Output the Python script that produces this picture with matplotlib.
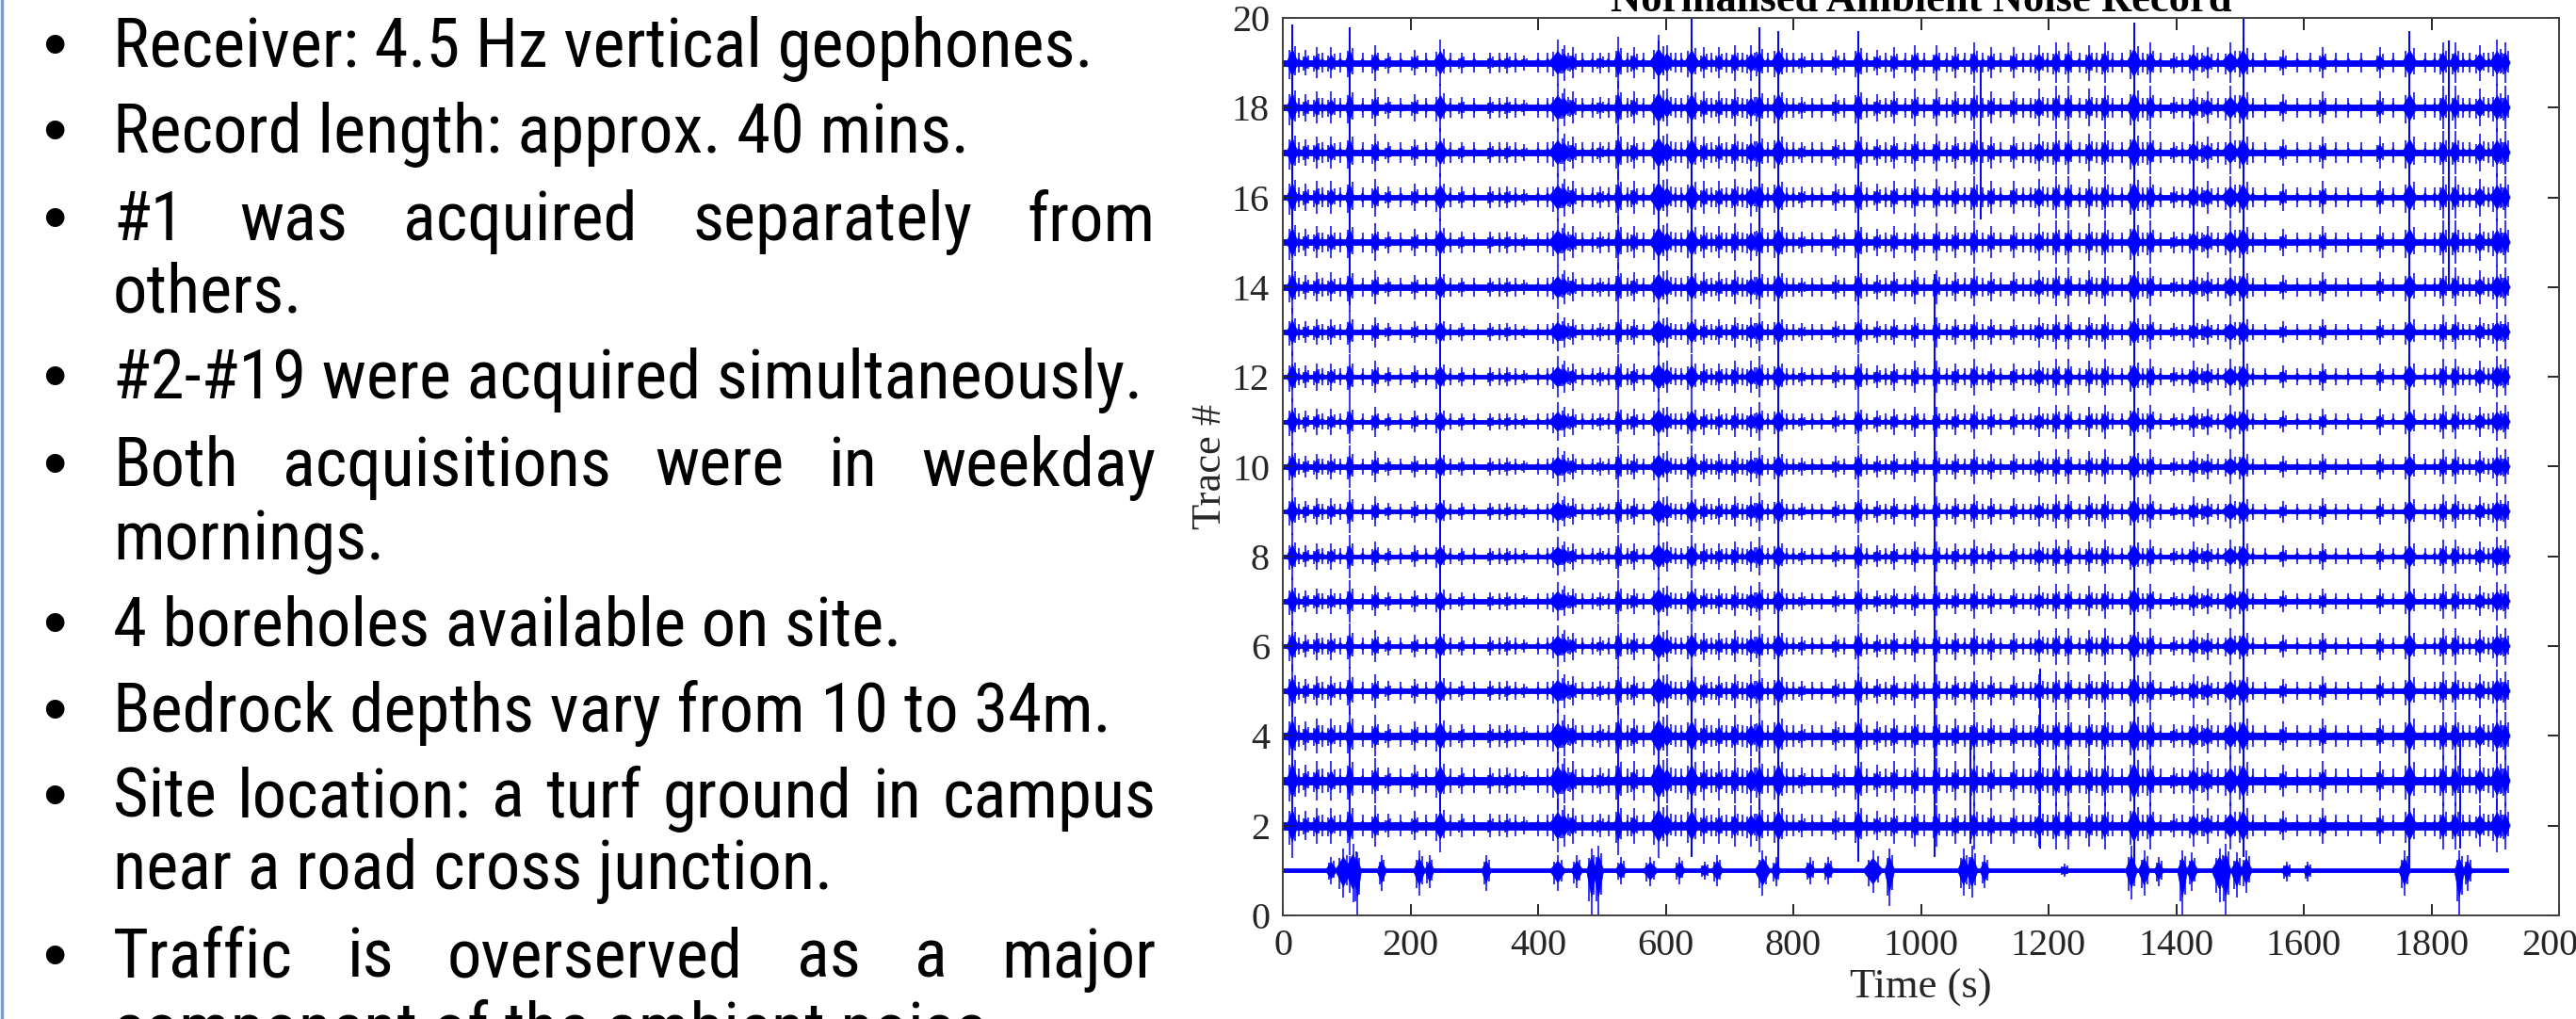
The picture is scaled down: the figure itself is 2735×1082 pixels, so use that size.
import numpy as np
import matplotlib.pyplot as plt
from matplotlib.collections import PolyCollection
from matplotlib import font_manager

# slide text, one entry per printed line: (text, has bullet, justified)
text_lines = [
    ("Receiver: 4.5 Hz vertical geophones.", True, False),
    ("Record length: approx. 40 mins.", True, False),
    ("#1 was acquired separately from", True, True),
    ("others.", False, False),
    ("#2-#19 were acquired simultaneously.", True, False),
    ("Both acquisitions were in weekday", True, True),
    ("mornings.", False, False),
    ("4 boreholes available on site.", True, False),
    ("Bedrock depths vary from 10 to 34m.", True, False),
    ("Site location: a turf ground in campus", True, True),
    ("near a road cross junction.", False, False),
    ("Traffic is overserved as a major", True, True),
    ("component of the ambient noise.", False, False),
]
baseline_px = [71, 162, 255, 332, 423, 516, 594, 685, 777, 868, 944, 1038, 1116]

# traces
trace_num = np.arange(1, 20)
record_end = 1920
noise_half = [0.04, 0.08, 0.08, 0.08, 0.05, 0.045, 0.045, 0.045, 0.045, 0.045,
              0.045, 0.045, 0.045, 0.06, 0.06, 0.06, 0.06, 0.06, 0.06]
trace_gain = [1.1, 1.2, 1.1, 0.9, 0.85, 0.8, 0.8, 0.8, 0.8, 0.8,
              0.85, 0.8, 0.9, 1.0, 1.0, 1.0, 1.0, 0.95]  # traces 2..19

# events seen on traces 2-19 (recorded together)
event_t = [15, 36, 53, 76, 105, 145, 165, 207, 247, 280, 325, 352, 378, 431, 441,
           454, 497, 526, 550, 589, 602, 641, 660, 684, 708, 734, 747, 777, 813, 866,
           902, 931, 958, 991, 1024, 1054, 1083, 1110, 1145, 1185, 1212, 1231, 1264,
           1288, 1334, 1360, 1396, 1427, 1449, 1485, 1505, 1567, 1630, 1719, 1766,
           1818, 1837, 1876, 1903, 1916]
event_amp = [0.55, 0.25, 0.3, 0.3, 0.5, 0.35, 0.2, 0.25, 0.45, 0.2, 0.2, 0.2, 0.15, 0.45, 0.35,
             0.3, 0.2, 0.5, 0.3, 0.55, 0.35, 0.5, 0.3, 0.3, 0.35, 0.35, 0.45, 0.5, 0.2, 0.25,
             0.5, 0.25, 0.3, 0.35, 0.35, 0.3, 0.4, 0.3, 0.3, 0.35, 0.4, 0.4, 0.35,
             0.4, 0.55, 0.4, 0.2, 0.35, 0.3, 0.4, 0.5, 0.25, 0.3, 0.3, 0.5,
             0.4, 0.4, 0.35, 0.45, 0.4]
event_w = [6, 5, 5, 6, 5, 6, 5, 6, 8, 5, 5, 5, 5, 10, 8,
           6, 6, 5, 6, 10, 8, 8, 6, 6, 6, 8, 6, 8, 6, 6,
           6, 6, 6, 6, 6, 6, 6, 6, 6, 8, 6, 6, 6,
           6, 8, 6, 6, 8, 8, 10, 8, 6, 6, 6, 8,
           6, 6, 8, 8, 5]
minor_t = [25, 62, 90, 125, 185, 225, 262, 300, 340, 365, 400, 415, 470, 485, 510, 540,
           565, 615, 625, 672, 695, 720, 760, 790, 800, 830, 845, 880, 915, 945, 975,
           1005, 1040, 1068, 1097, 1125, 1160, 1172, 1198, 1248, 1275, 1300, 1315, 1348,
           1375, 1410, 1440, 1465, 1520, 1540, 1590, 1610, 1650, 1670, 1690, 1740, 1790,
           1805, 1850, 1860, 1890, 1910]
minor_amp = 0.15

# long arrivals crossing several traces: time, lowest y, highest y
cross_t = [15, 105, 247, 589, 641, 641, 747, 777, 902, 902, 1021, 1094, 1334, 1427,
           1505, 1766, 1827, 1077, 1187, 1845]
cross_lo = [14.7, 13.6, 2.3, 14.5, 14.0, 1.3, 13.7, 1.1, 13.6, 1.2, 1.3, 15.5, 1.2, 13.0,
            1.3, 1.0, 14.0, 1.6, 1.5, 1.5]
cross_hi = [19.85, 19.8, 15.0, 19.5, 20.0, 5.5, 19.8, 19.7, 19.7, 5.4, 14.3, 19.0, 19.9, 17.7,
            20.0, 19.7, 19.5, 4.2, 5.5, 4.0]

# trace #1 (separate acquisition): time, up, down, half width
t1_t = [76, 95, 110, 117, 155, 214, 230, 319, 431, 461, 484, 495, 530, 576, 622, 661, 681,
        752, 773, 826, 855, 925, 951, 1067, 1080, 1100, 1225, 1330, 1350, 1373, 1410, 1425,
        1468, 1478, 1495, 1510, 1573, 1606, 1758, 1844, 1857]
t1_up = [0.3, 0.5, 0.6, 0.4, 0.35, 0.45, 0.35, 0.35, 0.35, 0.35, 0.5, 0.55, 0.3, 0.3, 0.3, 0.2,
         0.35, 0.45, 0.3, 0.3, 0.3, 0.45, 0.5, 0.5, 0.55, 0.35, 0.15, 0.55, 0.45, 0.3, 0.45, 0.4,
         0.5, 0.6, 0.4, 0.45, 0.2, 0.2, 0.45, 0.45, 0.35]
t1_down = [0.3, 0.6, 0.7, 0.98, 0.45, 0.55, 0.4, 0.45, 0.45, 0.4, 0.98, 0.98, 0.3, 0.35, 0.3,
           0.2, 0.35, 0.55, 0.35, 0.3, 0.3, 0.5, 0.8, 0.55, 0.6, 0.4, 0.15, 0.65, 0.55, 0.35,
           0.98, 0.45, 0.7, 0.98, 0.6, 0.5, 0.25, 0.25, 0.55, 0.98, 0.45]
t1_w = [6, 8, 8, 4, 5, 6, 5, 5, 8, 6, 5, 5, 6, 8, 6, 6, 6, 8, 5, 6, 6, 10, 5, 6, 6, 5, 6, 6,
        6, 5, 5, 6, 8, 5, 6, 6, 6, 5, 6, 5, 5]

blue = '#0000FF'
W, H = 2735, 1082
fig = plt.figure(figsize=(W / 100, H / 100), dpi=100)
fig.patch.set_facecolor('white')

# ---- left: bullet text ----
names = {f.name for f in font_manager.fontManager.ttflist}
sans = 'Liberation Sans'
for cand in ['Liberation Sans Narrow', 'Arial Narrow', 'Roboto Condensed', 'Liberation Sans']:
    if cand in names:
        sans = cand
        break
renderer = fig.canvas.get_renderer()
probe = fig.text(0, 0, text_lines[0][0], family=sans, fontsize=47)
fs = 47 * 1041 / probe.get_window_extent(renderer).width
probe.remove()

x_text, x_right, x_bullet = 120, 1227, 58
for (line, bullet, justify), yb in zip(text_lines, baseline_px):
    fy = 1 - yb / H
    if bullet:
        fig.text(x_bullet / W, fy, '\u2022', family='Liberation Sans', fontsize=fs,
                 ha='center', va='baseline')
    if not justify:
        fig.text(x_text / W, fy, line, family=sans, fontsize=fs, va='baseline')
        continue
    words = line.split()
    arts = [fig.text(0, fy, w, family=sans, fontsize=fs, va='baseline') for w in words]
    widths = [a.get_window_extent(renderer).width for a in arts]
    gap = (x_right - x_text - sum(widths)) / (len(words) - 1)
    x = x_text
    for a, wd in zip(arts, widths):
        a.set_x(x / W)
        x += wd + gap

# slide border
fig.add_artist(plt.Line2D([1.5 / W, 1.5 / W], [0, 1], transform=fig.transFigure,
                          color='#6FA0DC', lw=2.5))

# ---- right: noise record ----
ax = fig.add_axes([1362 / W, 1 - 972 / H, (2717 - 1362) / W, (972 - 19) / H])

for n, half in zip(trace_num, noise_half):
    ax.fill_between([0, record_end], n - half, n + half, color=blue, lw=0.6)

polys = []
spikes_x, spikes_lo, spikes_hi = [], [], []
for n, g in zip(trace_num[1:], trace_gain):
    for t, a, w in zip(event_t, event_amp, event_w):
        h = a * g
        hw = 1.5 * w
        polys.append([(t - hw, n), (t - 0.3 * hw, n + 0.4 * h), (t, n + 0.6 * h),
                      (t + 0.3 * hw, n + 0.4 * h), (t + hw, n),
                      (t + 0.3 * hw, n - 0.4 * h), (t, n - 0.6 * h), (t - 0.3 * hw, n - 0.4 * h)])
        spikes_x += [t, t - 0.5 * hw, t + 0.5 * hw]
        spikes_lo += [n - 1.2 * h, n - 0.7 * h, n - 0.55 * h]
        spikes_hi += [n + 1.2 * h, n + 0.55 * h, n + 0.7 * h]
    for t in minor_t:
        h = minor_amp * g
        polys.append([(t - 5, n), (t, n + 0.7 * h), (t + 5, n), (t, n - 0.7 * h)])
        spikes_x.append(t)
        spikes_lo.append(n - 1.5 * h)
        spikes_hi.append(n + 1.5 * h)

for t, up, dn, w in zip(t1_t, t1_up, t1_down, t1_w):
    hw = 1.6 * w
    polys.append([(t - hw, 1), (t, 1 + 0.6 * up), (t + hw, 1), (t, 1 - 0.6 * dn)])
    spikes_x += [t, t - 0.45 * hw, t + 0.45 * hw]
    spikes_lo += [1 - dn, 1 - 0.7 * dn, 1 - 0.55 * dn]
    spikes_hi += [1 + up, 1 + 0.55 * up, 1 + 0.7 * up]

ax.add_collection(PolyCollection(polys, facecolors=blue, edgecolors=blue, linewidths=0.5))
ax.vlines(spikes_x, spikes_lo, spikes_hi, color=blue, lw=1.1)
ax.vlines(cross_t, cross_lo, cross_hi, color=blue, lw=1.4)

ax.set_xlim(0, 2000)
ax.set_ylim(0, 20)
ax.set_xticks(np.arange(0, 2001, 200))
ax.set_yticks(np.arange(0, 21, 2))
ax.tick_params(direction='in', length=9, width=1.4, top=True, right=True,
               labelsize=29, colors='#262626', pad=10)
for lab in ax.get_xticklabels() + ax.get_yticklabels():
    lab.set_family('Liberation Serif')
for s in ax.spines.values():
    s.set_color('#404040')
    s.set_linewidth(1.4)
ax.set_xlabel('Time (s)', family='Liberation Serif', fontsize=32, color='#262626', labelpad=4)
ax.set_ylabel('Trace #', family='Liberation Serif', fontsize=32, color='#262626', labelpad=2)
ax.set_title('Normalised Ambient Noise Record', family='Liberation Serif', fontsize=32,
             fontweight='bold', pad=5)

fig.savefig('out.png', dpi=100)
